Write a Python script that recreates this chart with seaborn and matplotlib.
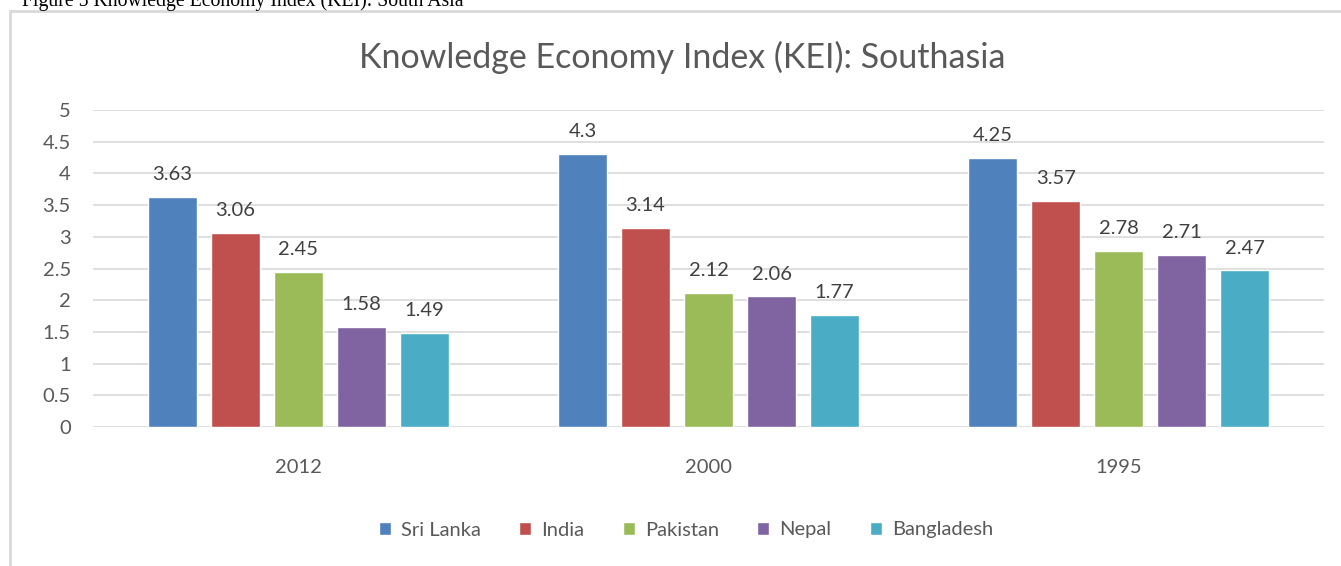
import matplotlib
matplotlib.use("Agg")
import matplotlib.pyplot as plt
from matplotlib.patches import Rectangle
from matplotlib.ticker import FuncFormatter
import seaborn as sns
import pandas as pd

# ---- data ----
years = ['2012', '2000', '1995']
countries = ['Sri Lanka', 'India', 'Pakistan', 'Nepal', 'Bangladesh']
sri_lanka = [3.63, 4.3, 4.25]
india = [3.06, 3.14, 3.57]
pakistan = [2.45, 2.12, 2.78]
nepal = [1.58, 2.06, 2.71]
bangladesh = [1.49, 1.77, 2.47]
colors = ['#4F81BD', '#C0504D', '#9BBB59', '#8064A2', '#4BACC6']

series = [sri_lanka, india, pakistan, nepal, bangladesh]
rows = []
for name, vals in zip(countries, series):
    for yr, v in zip(years, vals):
        rows.append({'year': yr, 'country': name, 'kei': v})
df = pd.DataFrame(rows)

sns.set_theme(style='white')
plt.rcParams['font.family'] = ['Lato', 'DejaVu Sans']

fig = plt.figure(figsize=(13.41, 5.66), dpi=100)

# chart frame (cut by the image edge on right/bottom)
fig.patches.append(Rectangle((10 / 1341, -0.1), 1.2, (566 - 11) / 566 + 0.1,
                             transform=fig.transFigure, fill=False,
                             edgecolor='#D9D9D9', linewidth=2))
fig.text(22 / 1341, 1 - 6 / 566, 'Figure 5 Knowledge Economy Index (KEI): South Asia',
         family='Liberation Serif', fontsize=14.2, color='black',
         ha='left', va='baseline')

ax = fig.add_axes([93 / 1341, 1 - 427 / 566, (1324 - 93) / 1341, (427 - 110) / 566])
sns.barplot(data=df, x='year', y='kei', hue='country', order=years,
            hue_order=countries, palette=colors, width=0.768, gap=0.22,
            saturation=1, ax=ax, legend=False)

for cont in ax.containers:
    ax.bar_label(cont, labels=[f'{b.get_height():g}' for b in cont],
                 padding=10, fontsize=14.5, color='#404040')

ax.set_xlim(-0.5, 2.5)
ax.set_ylim(0, 5)
ax.set_yticks([i * 0.5 for i in range(11)])
ax.yaxis.set_major_formatter(FuncFormatter(lambda v, p: f'{v:g}'))
ax.grid(axis='y', color='#D9D9D9', linewidth=1.2)
ax.set_axisbelow(True)
for s in ax.spines.values():
    s.set_visible(False)
ax.tick_params(axis='y', length=0, pad=16, labelsize=14.5, labelcolor='#595959')
ax.tick_params(axis='x', length=0, pad=23, labelsize=14.5, labelcolor='#595959')
ax.set_xlabel('')
ax.set_ylabel('')

fig.text(682 / 1341, 1 - 57 / 566, 'Knowledge Economy Index (KEI): Southasia',
         fontsize=24.5, color='#595959', ha='center', va='center')

handles = [Rectangle((0, 0), 1, 1, facecolor=c) for c in colors]
fig.legend(handles, countries, loc='center', bbox_to_anchor=(686 / 1341, 1 - 530 / 566),
           ncol=5, frameon=False, fontsize=14.5, labelcolor='#595959',
           handlelength=0.6, handleheight=0.6, handletextpad=0.5, columnspacing=1.9)

fig.savefig('out.png', dpi=100)
